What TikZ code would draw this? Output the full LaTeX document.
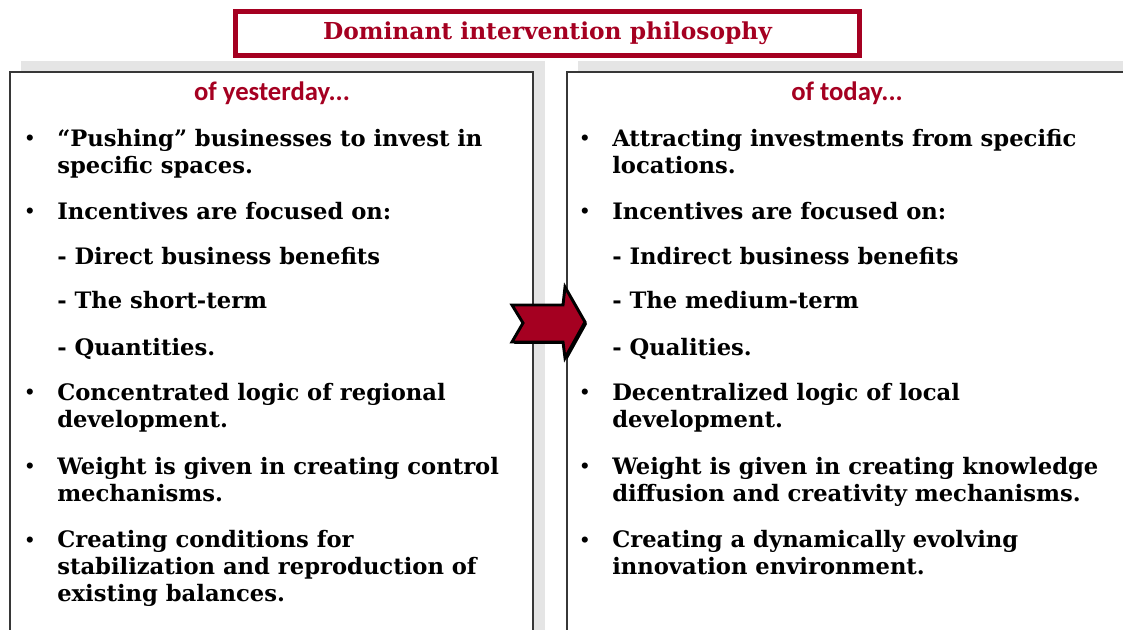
\documentclass[tikz,border=0pt]{standalone}
\usepackage{fontspec}
\setmainfont{DejaVu Serif}
\newfontfamily\headfont{Carlito}
\usetikzlibrary{positioning}
\definecolor{darkcrimson}{RGB}{165,0,33}
\definecolor{shadowgray}{RGB}{229,229,229}
\definecolor{framegray}{RGB}{55,55,55}

\begin{document}
\begin{tikzpicture}[x=0.75pt, y=-0.75pt, line join=miter]%
            \tikzstyle{titlebox} = [ rectangle, draw = darkcrimson, line width = 3.75pt, fill = white, minimum width = 468pt, minimum height = 33pt, inner sep = 0pt, text = darkcrimson, font = \bfseries\fontsize{17.5}{20}\selectfont]
            \tikzstyle{head} = [ inner sep = 0pt, text = darkcrimson, font = \headfont\bfseries\fontsize{20}{22}\selectfont]
            \tikzstyle{item} = [ anchor = base west, align = left, inner sep = 0pt, font = \bfseries\fontsize{17}{20.25}\selectfont]
            \tikzstyle{dot} = [ anchor = base west, inner sep = 0pt, font = \bfseries\fontsize{13}{14}\selectfont]
            \tikzstyle{panel} = [ draw = framegray, line width = 1.5pt]
        %%
            \useasboundingbox (0,0) rectangle (1123,630);
            \fill[white] (0,0) rectangle (1123,630);

            %% Panels with their grey shadow
            \fill[shadowgray] (21,61) rectangle (545,630);
            \fill[shadowgray] (578,61) rectangle (1123,630);
            \fill[white] (10,72) rectangle (533,630);
            \fill[white] (567,72) rectangle (1123,630);
            \draw[panel] (10,630) -- (10,72) -- (533,72) -- (533,630);
            \draw[panel] (567,630) -- (567,72) -- (1124,72);

            %% Title
            \node [titlebox] (title) at (547.5,33.5) {Dominant intervention philosophy};

            %% Column heads
            \node [head] (yesterday) at (272,93) {of yesterday...};
            \node [head] (today) at (847,93) {of today...};

            %% Yesterday (nodes sit on the baseline of their last line)
            \node [item] (y1) at (57,174) {“Pushing” businesses to invest in\\specific spaces.};
            \node [item] (y2) at (57,220) {Incentives are focused on:};
            \node [item] (y3) at (57,265) {- Direct business benefits};
            \node [item] (y4) at (57,309) {- The short-term};
            \node [item] (y5) at (57,356) {- Quantities.};
            \node [item] (y6) at (57,427) {Concentrated logic of regional\\development.};
            \node [item] (y7) at (57,501) {Weight is given in creating control\\mechanisms.};
            \node [item] (y8) at (57,601) {Creating conditions for\\stabilization and reproduction of\\existing balances.};
            \node [dot] (by1) at (24,145) {•};
            \node [dot] (by2) at (24,218) {•};
            \node [dot] (by6) at (24,398) {•};
            \node [dot] (by7) at (24,472) {•};
            \node [dot] (by8) at (24,546) {•};

            %% Today
            \node [item] (t1) at (612,174) {Attracting investments from specific\\locations.};
            \node [item] (t2) at (612,220) {Incentives are focused on:};
            \node [item] (t3) at (612,265) {- Indirect business benefits};
            \node [item] (t4) at (612,309) {- The medium-term};
            \node [item] (t5) at (612,356) {- Qualities.};
            \node [item] (t6) at (612,427) {Decentralized logic of local\\development.};
            \node [item] (t7) at (612,501) {Weight is given in creating knowledge\\diffusion and creativity mechanisms.};
            \node [item] (t8) at (612,574) {Creating a dynamically evolving\\innovation environment.};
            \node [dot] (bt1) at (579,145) {•};
            \node [dot] (bt2) at (579,218) {•};
            \node [dot] (bt6) at (579,398) {•};
            \node [dot] (bt7) at (579,472) {•};
            \node [dot] (bt8) at (579,546) {•};

            %% Arrow from yesterday to today
            \fill[black] (514,307) -- (565,307) -- (567,289) -- (587,324) -- (567,360) -- (565,344) -- (514,344) -- (525,325) -- cycle;
            \draw[fill = darkcrimson, line width = 2.2pt] (512,305) -- (563,305) -- (565,287) -- (585,322) -- (565,358) -- (563,342) -- (512,342) -- (523,323) -- cycle;
        \end{tikzpicture}
\end{document}
